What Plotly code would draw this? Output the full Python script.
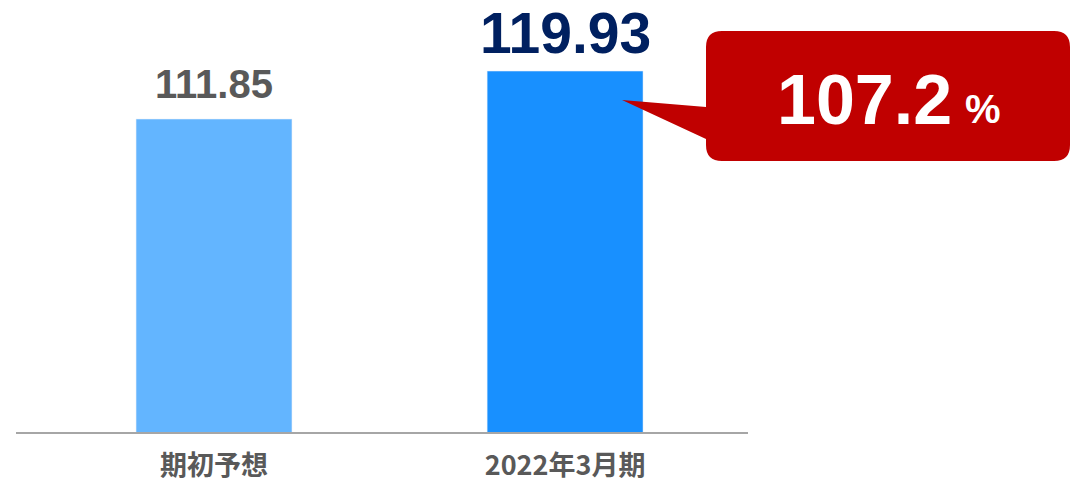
import plotly.graph_objects as go

categories = ["期初予想", "2022年3月期"]
values = [111.85, 119.93]
value_labels = ["111.85", "119.93"]
bar_colors = ["#63B5FF", "#1890FF"]
label_colors = ["#595959", "#002060"]
label_sizes = [40, 57]
ratio_label = "107.2"
ratio_unit = "%"

W, H = 1086, 483
ML, MR, MT, MB = 16, 338, 0, 51
PW, PH = W - ML - MR, H - MT - MB

def px(x):
    return (x - ML) / PW

def py(y):
    return (H - MB - y) / PH

fig = go.Figure()
fig.add_trace(go.Bar(
    x=[0, 1], y=values, marker_color=bar_colors, width=0.444,
    hoverinfo="skip", showlegend=False,
))

for i, (v, t) in enumerate(zip(values, value_labels)):
    fig.add_annotation(
        x=i, y=v, text=f"<b>{t}</b>", showarrow=False, yanchor="bottom",
        yshift=[11, 4][i],
        font=dict(family="Liberation Sans, Arial", size=label_sizes[i], color=label_colors[i]),
    )

# callout
x0, x1, y0, y1, r = 706, 1070, 31, 161, 16
tipx, tipy = 622, 100
path = (
    f"M {px(x0+r)},{py(y0)} L {px(x1-r)},{py(y0)} Q {px(x1)},{py(y0)} {px(x1)},{py(y0+r)} "
    f"L {px(x1)},{py(y1-r)} Q {px(x1)},{py(y1)} {px(x1-r)},{py(y1)} "
    f"L {px(x0+r)},{py(y1)} Q {px(x0)},{py(y1)} {px(x0)},{py(y1-r)} "
    f"L {px(x0)},{py(139)} L {px(tipx)},{py(tipy)} L {px(x0)},{py(107)} "
    f"L {px(x0)},{py(y0+r)} Q {px(x0)},{py(y0)} {px(x0+r)},{py(y0)} Z"
)
fig.add_shape(type="path", path=path, xref="paper", yref="paper",
              fillcolor="#C00000", line=dict(width=0))
fig.add_annotation(
    x=px(864), y=py(100), xref="paper", yref="paper", showarrow=False,
    text=f"<b>{ratio_label}</b>", xanchor="center", yanchor="middle",
    font=dict(family="Liberation Sans, Arial", size=70, color="white"),
)
fig.add_annotation(
    x=px(983), y=py(109), xref="paper", yref="paper", showarrow=False,
    text=f"<b>{ratio_unit}</b>", xanchor="center", yanchor="middle",
    font=dict(family="Liberation Sans, Arial", size=40, color="white"),
)

fig.update_layout(
    width=W, height=H,
    margin=dict(l=ML, r=MR, t=MT, b=MB, autoexpand=False),
    plot_bgcolor="white", paper_bgcolor="white",
    xaxis=dict(
        range=[-0.564, 1.521], tickmode="array", tickvals=[0, 1],
        ticktext=[f"<b>{c}</b>" for c in categories],
        tickfont=dict(family="Noto Sans CJK JP", size=27, color="#595959"),
        showline=True, linecolor="#A6A6A6", linewidth=2, showgrid=False,
        ticks="outside", ticklen=9, tickcolor="rgba(0,0,0,0)", zeroline=False,
        automargin=False,
    ),
    yaxis=dict(range=[59.16, 131.9], visible=False, showgrid=False, automargin=False),
)

fig.write_html("out.html", config={"displayModeBar": False},
               post_script="document.body.style.margin='0';")
